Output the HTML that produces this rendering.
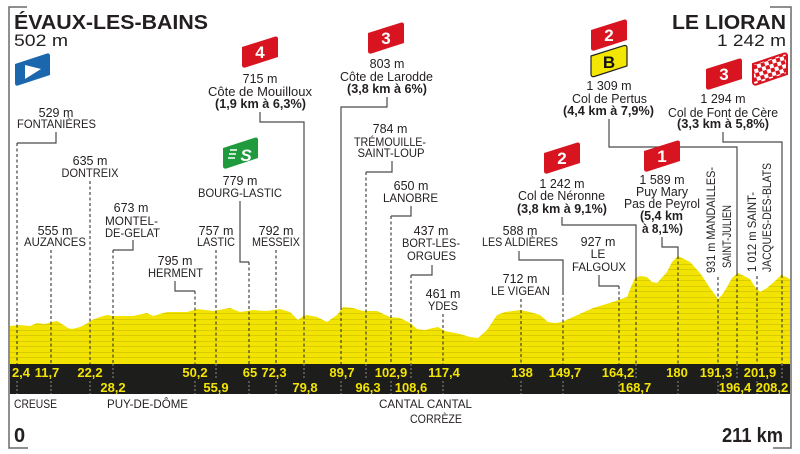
<!DOCTYPE html>
<html><head><meta charset="utf-8"><style>
html,body{margin:0;padding:0;background:#fff;}
svg{display:block;}
text{font-family:"Liberation Sans",sans-serif;fill:#231f20;}
.l{font-size:12.5px;text-anchor:middle;}
.u{font-size:12px;text-anchor:middle;}
.b{font-size:12.5px;font-weight:bold;text-anchor:middle;}
.k{font-size:13px;font-weight:bold;fill:#f4e500;text-anchor:middle;}
.fn{font-size:17px;font-weight:bold;fill:#fff;text-anchor:middle;}
</style></head><body>
<svg width="800" height="454" viewBox="0 0 800 454" xmlns="http://www.w3.org/2000/svg">
<defs>
<clipPath id="pc">
<path id="prof" d="M10,364 L10,326 L20,325 L30,326 L37,323 L45,324 L52,322 L57,321 L62,324 L68,328 L72,329 L80,327 L86,324 L92,320 L100,317 L107,315 L113,316 L133,316 L147,313 L153,316 L167,312 L187,312 L197,309 L213,311 L230,308 L240,312 L253,310 L267,311 L280,309 L290,312 L298,320 L303,316 L307,315 L317,317 L327,322 L337,315 L343,307 L353,308 L363,311 L377,311 L390,317 L400,318 L410,323 L417,329 L425,330 L433,328 L438,327 L445,331 L460,334 L470,337 L478,338 L487,330 L497,315 L505,312 L520,310 L530,312 L540,315 L548,322 L555,323 L562,322 L573,317 L593,308 L613,302 L627,297 L631,287 L635,278 L640,276 L647,277 L652,282 L657,283 L667,272 L672,262 L678,256 L684,259 L690,262 L700,273 L710,288 L718,299 L722,295 L727,287 L732,278 L738,273 L744,276 L750,279 L755,287 L760,292 L767,288 L775,281 L781,275 L786,277 L790,279 L790,364 Z"/>
</clipPath>
<pattern id="ck" patternUnits="userSpaceOnUse" width="8" height="8" patternTransform="rotate(-17)">
<rect width="8" height="8" fill="#fff"/>
<rect width="4" height="4" fill="#d7141f"/>
<rect x="4" y="4" width="4" height="4" fill="#d7141f"/>
</pattern>
</defs>
<rect width="800" height="454" fill="#fff"/>

<!-- profile -->
<g clip-path="url(#pc)">
<rect x="10" y="250" width="780" height="114" fill="#f2e300"/>
<g stroke="#d9cc00" stroke-width="1" shape-rendering="crispEdges">
<path d="M10,258.5H790M10,264.5H790M10,269.5H790M10,275.5H790M10,280.5H790M10,286.5H790M10,291.5H790M10,297.5H790M10,302.5H790M10,308.5H790M10,313.5H790M10,319.5H790M10,324.5H790M10,330.5H790M10,335.5H790M10,341.5H790M10,346.5H790M10,352.5H790M10,357.5H790"/>
</g>
</g>

<!-- dashed lines -->
<g stroke="#333" stroke-width="1.1" stroke-dasharray="3 2.5" fill="none">
<path d="M17,143V364M51,250V364M90,181V364M113,250V364M195,291V364M216,250V364M249,262V364M276,250V364M304,316V364M341,307V364M366,172V364M391,216V364M411,275V364M443,314V364M521,299V364M563,292V364M619,286V364M636,278V364M678,256V364M718,277V364M737,273V364M757,276V364M782,275V364"/>
</g>
<!-- connectors -->
<g stroke="#4a4a4a" stroke-width="1.2" fill="none">
<path d="M56,132V143H17"/>
<path d="M133,240V250H113"/>
<path d="M175,281V291H195"/>
<path d="M240,201V262H249"/>
<path d="M260,112V122H304V316"/>
<path d="M387,97V107H341V307"/>
<path d="M392,161V172H366"/>
<path d="M411,206V216H391"/>
<path d="M432,265V275H411"/>
<path d="M519,251V260H563V292"/>
<path d="M599,275V286H619"/>
<path d="M562,217V225H636V278"/>
<path d="M662,237V247H678V256"/>
<path d="M609,119V147H737V273"/>
<path d="M723,132V142H782V275"/>
</g>

<!-- band -->
<rect x="10" y="364" width="780" height="30" fill="#1d1d1b"/>
<g stroke="#8a8a8a" stroke-width="1" stroke-dasharray="2 2">
<path d="M17,381V394M51,381V394M90,381V394M195,381V394M249,381V394M276,381V394M341,381V394M391,381V394M443,381V394M521,381V394M563,381V394M619,381V394M678,381V394M718,381V394M757,381V394"/>
<path d="M113,364V379M216,364V379M304,364V379M366,364V379M411,364V379M636,364V379M737,364V379M782,364V379"/>
</g>
<text class="k" x="21" y="377">2,4</text>
<text class="k" x="47" y="377">11,7</text>
<text class="k" x="90" y="377">22,2</text>
<text class="k" x="195" y="377">50,2</text>
<text class="k" x="250" y="377">65</text>
<text class="k" x="274" y="377">72,3</text>
<text class="k" x="342" y="377">89,7</text>
<text class="k" x="391" y="377">102,9</text>
<text class="k" x="444" y="377">117,4</text>
<text class="k" x="522" y="377">138</text>
<text class="k" x="565" y="377">149,7</text>
<text class="k" x="618" y="377">164,2</text>
<text class="k" x="677" y="377">180</text>
<text class="k" x="716" y="377">191,3</text>
<text class="k" x="760" y="377">201,9</text>
<text class="k" x="113" y="392">28,2</text>
<text class="k" x="216" y="392">55,9</text>
<text class="k" x="305" y="392">79,8</text>
<text class="k" x="368" y="392">96,3</text>
<text class="k" x="411" y="392">108,6</text>
<text class="k" x="635" y="392">168,7</text>
<text class="k" x="735" y="392">196,4</text>
<text class="k" x="772" y="392">208,2</text>

<!-- bottom labels -->
<text x="14" y="408" font-size="12" textLength="43" lengthAdjust="spacingAndGlyphs">CREUSE</text>
<text x="107" y="408" font-size="12" textLength="81" lengthAdjust="spacingAndGlyphs">PUY-DE-DÔME</text>
<text x="379" y="408" font-size="12" textLength="93" lengthAdjust="spacingAndGlyphs">CANTAL CANTAL</text>
<text x="410" y="423" font-size="12" textLength="52" lengthAdjust="spacingAndGlyphs">CORRÈZE</text>
<text x="14" y="442" font-size="20" font-weight="bold" fill="#1a1a1a">0</text>
<text x="722" y="442" font-size="20" font-weight="bold" textLength="61" lengthAdjust="spacingAndGlyphs">211 km</text>

<!-- borders -->
<g stroke="#6a6a6a" stroke-width="1.5" fill="none">
<path d="M27,7H9V448H28"/>
<path d="M770,7H791V448H773"/>
</g>

<!-- titles -->
<text x="14" y="29" font-size="20" font-weight="bold" fill="#1a1a1a" textLength="194" lengthAdjust="spacingAndGlyphs">ÉVAUX-LES-BAINS</text>
<text x="14" y="46" font-size="17" textLength="54" lengthAdjust="spacingAndGlyphs">502 m</text>
<text x="786" y="29" font-size="20" font-weight="bold" fill="#1a1a1a" text-anchor="end" textLength="114" lengthAdjust="spacingAndGlyphs">LE LIORAN</text>
<text x="786" y="46" font-size="17" text-anchor="end" textLength="69" lengthAdjust="spacingAndGlyphs">1 242 m</text>

<!-- start icon -->
<path d="M15,64 L47,53.5 Q50,53 50,56 L50,75 L18,85.5 Q15,86.5 15,83 Z" fill="#1b67ad"/>
<path d="M25,65 L25,79 L41,69 Z" fill="#fff"/>

<!-- flags -->
<g transform="translate(242,36)"><path d="M0,11 L33,0.6 Q36,0 36,3 L36,21 L3,31.6 Q0,32 0,29 Z" fill="#d7141f"/><text class="fn" x="18" y="22">4</text></g>
<g transform="translate(368,22)"><path d="M0,11 L33,0.6 Q36,0 36,3 L36,21 L3,31.6 Q0,32 0,29 Z" fill="#d7141f"/><text class="fn" x="18" y="22">3</text></g>
<g transform="translate(591,45)"><path d="M0,11 L33,0.6 Q36,0 36,3 L36,21 L3,31.6 Q0,32 0,29 Z" fill="#f3e600" stroke="#222" stroke-width="1.2"/><text class="fn" x="18" y="23" style="fill:#111">B</text></g>
<g transform="translate(591,19)"><path d="M0,11 L33,0.6 Q36,0 36,3 L36,21 L3,31.6 Q0,32 0,29 Z" fill="#d7141f"/><text class="fn" x="18" y="22">2</text></g>
<g transform="translate(706,58)"><path d="M0,11 L33,0.6 Q36,0 36,3 L36,21 L3,31.6 Q0,32 0,29 Z" fill="#d7141f"/><text class="fn" x="18" y="22">3</text></g>
<g transform="translate(544,142)"><path d="M0,11 L33,0.6 Q36,0 36,3 L36,21 L3,31.6 Q0,32 0,29 Z" fill="#d7141f"/><text class="fn" x="18" y="22">2</text></g>
<g transform="translate(644,140)"><path d="M0,11 L33,0.6 Q36,0 36,3 L36,21 L3,31.6 Q0,32 0,29 Z" fill="#d7141f"/><text class="fn" x="18" y="22">1</text></g>
<g transform="translate(223,137)"><path d="M0,11 L32,0.6 Q35,0 35,3 L35,21 L3,31.6 Q0,32 0,29 Z" fill="#1f9a3c"/>
<path d="M7,13H14M6,17H13M5,21H12" stroke="#fff" stroke-width="1.6"/>
<text class="fn" x="23" y="24" style="font-style:italic">S</text></g>
<g transform="translate(753,53)"><path d="M0,11 L31,0.6 Q34,0 34,3 L34,21 L3,31.6 Q0,32 0,29 Z" fill="url(#ck)" stroke="#d7141f" stroke-width="2"/></g>

<!-- labels -->
<text class="l" x="56" y="117">529 m</text>
<text class="u" x="56.5" y="128" textLength="79" lengthAdjust="spacingAndGlyphs">FONTANIÈRES</text>
<text class="l" x="90" y="165">635 m</text>
<text class="u" x="90" y="177" textLength="57" lengthAdjust="spacingAndGlyphs">DONTREIX</text>
<text class="l" x="55" y="235">555 m</text>
<text class="u" x="55" y="246" textLength="62" lengthAdjust="spacingAndGlyphs">AUZANCES</text>
<text class="l" x="131" y="212">673 m</text>
<text class="u" x="131.5" y="225" textLength="53" lengthAdjust="spacingAndGlyphs">MONTEL-</text>
<text class="u" x="132.5" y="237" textLength="55" lengthAdjust="spacingAndGlyphs">DE-GELAT</text>
<text class="l" x="175" y="265">795 m</text>
<text class="u" x="175.5" y="277" textLength="55" lengthAdjust="spacingAndGlyphs">HERMENT</text>
<text class="l" x="216" y="235">757 m</text>
<text class="u" x="216" y="246" textLength="38" lengthAdjust="spacingAndGlyphs">LASTIC</text>
<text class="l" x="240" y="185">779 m</text>
<text class="u" x="240" y="197" textLength="84" lengthAdjust="spacingAndGlyphs">BOURG-LASTIC</text>
<text class="l" x="276" y="235">792 m</text>
<text class="u" x="276" y="246" textLength="48" lengthAdjust="spacingAndGlyphs">MESSEIX</text>
<text class="l" x="260" y="83">715 m</text>
<text class="l" x="260" y="96" textLength="104" lengthAdjust="spacingAndGlyphs">Côte de Mouilloux</text>
<text class="b" x="260.5" y="108" textLength="91" lengthAdjust="spacingAndGlyphs">(1,9 km à 6,3%)</text>
<text class="l" x="387" y="68">803 m</text>
<text class="l" x="386.5" y="81" textLength="93" lengthAdjust="spacingAndGlyphs">Côte de Larodde</text>
<text class="b" x="387" y="93" textLength="80" lengthAdjust="spacingAndGlyphs">(3,8 km à 6%)</text>
<text class="l" x="390" y="133">784 m</text>
<text class="u" x="390" y="146" textLength="72" lengthAdjust="spacingAndGlyphs">TRÉMOUILLE-</text>
<text class="u" x="391" y="157" textLength="67" lengthAdjust="spacingAndGlyphs">SAINT-LOUP</text>
<text class="l" x="411" y="190">650 m</text>
<text class="u" x="410.5" y="202" textLength="55" lengthAdjust="spacingAndGlyphs">LANOBRE</text>
<text class="l" x="431" y="235">437 m</text>
<text class="u" x="431" y="247" textLength="58" lengthAdjust="spacingAndGlyphs">BORT-LES-</text>
<text class="u" x="431.5" y="260" textLength="49" lengthAdjust="spacingAndGlyphs">ORGUES</text>
<text class="l" x="443" y="298">461 m</text>
<text class="u" x="443" y="310" textLength="30" lengthAdjust="spacingAndGlyphs">YDES</text>
<text class="l" x="520" y="283">712 m</text>
<text class="u" x="520.5" y="295" textLength="59" lengthAdjust="spacingAndGlyphs">LE VIGEAN</text>
<text class="l" x="520" y="235">588 m</text>
<text class="u" x="520" y="246" textLength="76" lengthAdjust="spacingAndGlyphs">LES ALDIÈRES</text>
<text class="l" x="562" y="188">1 242 m</text>
<text class="l" x="561.5" y="200" textLength="87" lengthAdjust="spacingAndGlyphs">Col de Néronne</text>
<text class="b" x="562" y="213" textLength="90" lengthAdjust="spacingAndGlyphs">(3,8 km à 9,1%)</text>
<text class="l" x="598" y="246">927 m</text>
<text class="u" x="598" y="258">LE</text>
<text class="u" x="599" y="271" textLength="54" lengthAdjust="spacingAndGlyphs">FALGOUX</text>
<text class="l" x="662" y="184">1 589 m</text>
<text class="l" x="662" y="196" textLength="52" lengthAdjust="spacingAndGlyphs">Puy Mary</text>
<text class="l" x="662" y="208" textLength="76" lengthAdjust="spacingAndGlyphs">Pas de Peyrol</text>
<text class="b" x="661.5" y="220" textLength="43" lengthAdjust="spacingAndGlyphs">(5,4 km</text>
<text class="b" x="662.5" y="233" textLength="41" lengthAdjust="spacingAndGlyphs">à 8,1%)</text>
<text class="l" x="609" y="90">1 309 m</text>
<text class="l" x="609.5" y="103" textLength="75" lengthAdjust="spacingAndGlyphs">Col de Pertus</text>
<text class="b" x="608.5" y="115" textLength="91" lengthAdjust="spacingAndGlyphs">(4,4 km à 7,9%)</text>
<text class="l" x="723" y="103">1 294 m</text>
<text class="l" x="723" y="117" textLength="110" lengthAdjust="spacingAndGlyphs">Col de Font de Cère</text>
<text class="b" x="723" y="128" textLength="92" lengthAdjust="spacingAndGlyphs">(3,3 km à 5,8%)</text>

<!-- rotated labels -->
<text transform="translate(715,273) rotate(-90)" font-size="12" textLength="106" lengthAdjust="spacingAndGlyphs">931 m MANDAILLES-</text>
<text transform="translate(731,268) rotate(-90)" font-size="12" textLength="63" lengthAdjust="spacingAndGlyphs">SAINT-JULIEN</text>
<text transform="translate(756,272) rotate(-90)" font-size="12" textLength="80" lengthAdjust="spacingAndGlyphs">1 012 m SAINT-</text>
<text transform="translate(771,272) rotate(-90)" font-size="12" textLength="109" lengthAdjust="spacingAndGlyphs">JACQUES-DES-BLATS</text>
</svg>
</body></html>
